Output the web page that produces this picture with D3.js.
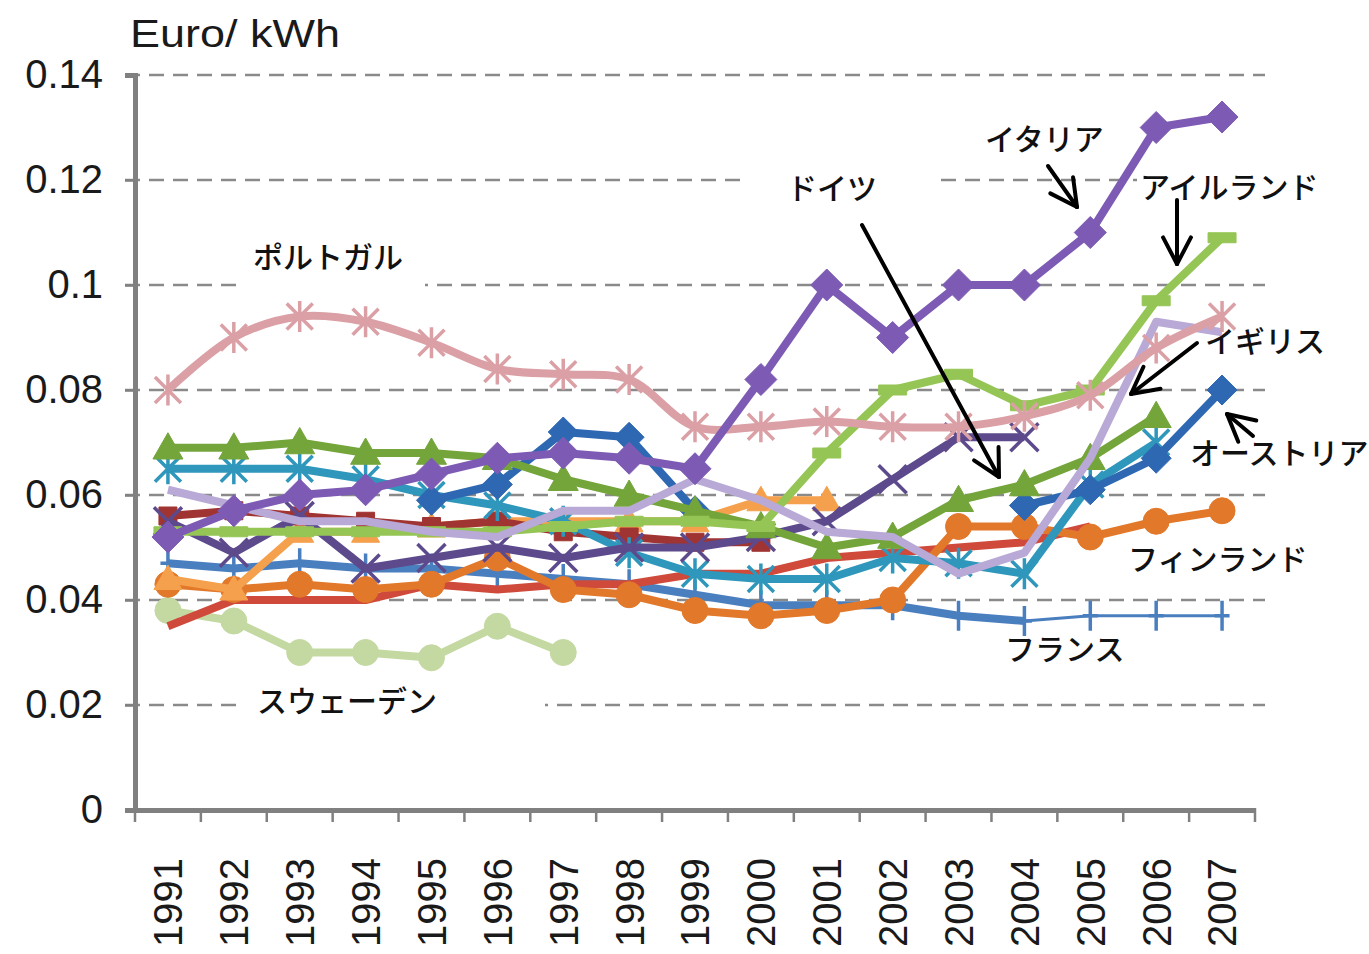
<!DOCTYPE html>
<html><head><meta charset="utf-8">
<script src="https://cdn.jsdelivr.net/npm/d3@7"></script>
<style>body{margin:0;background:#fff;} svg{display:block;}</style>
</head><body>
<svg id="c" width="1369" height="954"></svg>
<script>
const years = ["1991","1992","1993","1994","1995","1996","1997","1998","1999","2000","2001","2002","2003","2004","2005","2006","2007"];
const yTicks = [0, 0.02, 0.04, 0.06, 0.08, 0.1, 0.12, 0.14];
const yTickLabels = ["0", "0.02", "0.04", "0.06", "0.08", "0.1", "0.12", "0.14"];
const unitLabel = "Euro/ kWh";

const sweden    = [0.038,0.036,0.030,0.030,0.029,0.035,0.030,null,null,null,null,null,null,null,null,null,null];
const france    = [0.047,0.046,0.047,0.046,0.046,0.045,0.044,0.043,0.041,0.039,0.039,0.039,0.037,0.036,0.037,0.037,0.037];
const red       = [0.035,0.040,0.040,0.040,0.043,0.042,0.043,0.043,0.045,0.045,0.048,0.049,0.050,0.051,0.054,null,null];
const finland   = [0.043,0.042,0.043,0.042,0.043,0.048,0.042,0.041,0.038,0.037,0.038,0.040,0.054,0.054,0.052,0.055,0.057];
const ltOrange  = [0.044,0.042,0.053,0.053,0.054,0.055,0.055,0.055,0.055,0.059,0.059,null,null,null,null,null,null];
const darkRed   = [0.056,0.057,0.056,0.055,0.054,0.055,0.053,0.052,0.051,0.051,null,null,null,null,null,null,null];
const teal      = [0.065,0.065,0.065,0.063,0.060,0.058,0.055,0.049,0.045,0.044,0.044,0.048,0.047,0.045,0.062,0.070,null];
const germany   = [0.055,0.049,0.056,0.046,0.048,0.050,0.048,0.050,0.050,0.052,0.055,0.063,0.071,0.071,null,null,null];
const austria   = [null,null,null,null,0.059,0.062,0.072,0.071,0.057,null,null,null,null,0.058,0.061,0.067,0.080];
const greenTri  = [0.069,0.069,0.070,0.068,0.068,0.067,0.063,0.060,0.057,0.054,0.050,0.052,0.059,0.062,0.067,0.075,null];
const ireland   = [0.053,0.053,0.053,0.053,0.053,0.053,0.054,0.055,0.055,0.054,0.068,0.080,0.083,0.077,0.080,0.097,0.109];
const uk        = [0.061,0.058,0.055,0.055,0.053,0.052,0.057,0.057,0.063,0.059,0.053,0.052,0.045,0.049,0.067,0.093,0.091];
const portugal  = [0.080,0.090,0.094,0.093,0.089,0.084,0.083,0.082,0.073,0.073,0.074,0.073,0.073,0.075,0.079,0.088,0.094];
const italy     = [0.052,0.057,0.060,0.061,0.064,0.067,0.068,0.067,0.065,0.082,0.100,0.090,0.100,0.100,0.110,0.130,0.132];

const labelTexts = ["ポルトガル","スウェーデン","ドイツ","イタリア","アイルランド","イギリス","オーストリア","フィンランド","フランス"];

const svg = d3.select("#c");
const x = d3.scaleBand().domain(years).range([135, 1255]).padding(0);
const y = d3.scaleLinear().domain([0, 0.14]).range([810, 75]);
const cx = d => x(d) + x.bandwidth() / 2;
const FONT = "'Liberation Sans', Arial, sans-serif";
const JFONT = "'Noto Sans CJK JP', sans-serif";

// gridlines
svg.append("g").selectAll("line").data(yTicks.filter(v => v > 0)).join("line")
  .attr("x1", 125).attr("x2", 1265)
  .attr("y1", d => y(d)).attr("y2", d => y(d))
  .attr("stroke", "#8a8a8a").attr("stroke-width", 2.5).attr("stroke-dasharray", "15,9");

// white boxes behind labels
const boxes = [[240,232,185,60],[245,676,300,46],[745,158,195,58],[1137,162,195,44]];
svg.append("g").selectAll("rect").data(boxes).join("rect")
  .attr("x", d => d[0]).attr("y", d => d[1]).attr("width", d => d[2]).attr("height", d => d[3])
  .attr("fill", "#fff");

// y axis
const yAxis = svg.append("g").attr("transform", "translate(135,0)")
  .call(d3.axisLeft(y).tickValues(yTicks).tickFormat((d, i) => yTickLabels[i]).tickSize(10).tickPadding(22));
yAxis.select(".domain").attr("stroke", "#808080").attr("stroke-width", 5);
yAxis.selectAll(".tick line").attr("stroke", "#808080").attr("stroke-width", 2.5);
yAxis.selectAll("text").attr("font-family", FONT).attr("font-size", 40).attr("fill", "#1a1a1a");

// x axis
const xAxis = svg.append("g").attr("transform", "translate(0,810)")
  .call(d3.axisBottom(x).tickSize(0).tickPadding(0));
xAxis.select(".domain").attr("stroke", "#808080").attr("stroke-width", 5);
xAxis.selectAll("text")
  .attr("transform", "rotate(-90)")
  .attr("x", -48).attr("y", 0).attr("dy", "0.36em")
  .attr("text-anchor", "end")
  .attr("font-family", FONT).attr("font-size", 40).attr("fill", "#1a1a1a");
const bounds = years.map(d => x(d)).concat([x.range()[1]]);
svg.append("g").selectAll("line").data(bounds).join("line")
  .attr("x1", d => d).attr("x2", d => d).attr("y1", 808).attr("y2", 822)
  .attr("stroke", "#808080").attr("stroke-width", 2.5);

// unit label
svg.append("text").attr("x", 130).attr("y", 47).text(unitLabel)
  .attr("font-family", FONT).attr("font-size", 38).attr("fill", "#1a1a1a")
  .attr("textLength", 210).attr("lengthAdjust", "spacingAndGlyphs");

// marker paths
const mk = {
  diamond: r => `M0,${-r}L${r},0L0,${r}L${-r},0Z`,
  square: r => `M${-r},${-r}H${r}V${r}H${-r}Z`,
  triangle: r => `M0,${-r}L${r},${r*0.75}L${-r},${r*0.75}Z`,
  circle: r => `M${-r},0A${r},${r} 0 1,0 ${r},0A${r},${r} 0 1,0 ${-r},0Z`,
  x: r => `M${-r},${-r}L${r},${r}M${-r},${r}L${r},${-r}`,
  star: r => `M${-r},${-r}L${r},${r}M${-r},${r}L${r},${-r}M0,${-r*1.2}V${r*1.2}`,
  plus: r => `M0,${-r}V${r}M${-r*0.5},0H${r*0.5}`,
  dash: r => `M${-r},-5H${r}V5H${-r}Z`
};
const filled = {diamond:true, square:true, triangle:true, circle:true, dash:true};

const series = [
  {v: sweden,   c: "#c4d9a2", m: "circle",   r: 13},
  {v: france,   c: "#4a7fbf", m: "plus",     r: 15, thinFrom: 13},
  {v: red,      c: "#cf4a3a", m: "square",   r: 0},
  {v: finland,  c: "#e2782a", m: "circle",   r: 13},
  {v: ltOrange, c: "#f5a04c", m: "triangle", r: 14},
  {v: darkRed,  c: "#a03432", m: "square",   r: 9},
  {v: teal,     c: "#2f97bb", m: "star",     r: 13},
  {v: germany,  c: "#5d4a8c", m: "x",        r: 14},
  {v: austria,  c: "#2e68b2", m: "diamond",  r: 15},
  {v: greenTri, c: "#74a53b", m: "triangle", r: 15},
  {v: ireland,  c: "#95c555", m: "dash",     r: 14},
  {v: uk,       c: "#b9a9d6", m: "none",     r: 0},
  {v: portugal, c: "#dba0a6", m: "star",     r: 13, smooth: true},
  {v: italy,    c: "#7d5bb4", m: "diamond",  r: 16}
];

const gLines = svg.append("g");
series.forEach(s => {
  const pts = s.v.map((d, i) => ({x: cx(years[i]), v: d, i}));
  const line = d3.line().defined(p => p.v != null).x(p => p.x).y(p => y(p.v))
    .curve(s.smooth ? d3.curveCatmullRom.alpha(0.5) : d3.curveLinear);
  if (s.thinFrom != null) {
    const thick = pts.map(p => p.i <= s.thinFrom ? p : {...p, v: null});
    const thin = pts.map(p => p.i >= s.thinFrom ? p : {...p, v: null});
    gLines.append("path").attr("d", line(thick)).attr("fill", "none").attr("stroke", s.c)
      .attr("stroke-width", 8).attr("stroke-linejoin", "round");
    gLines.append("path").attr("d", line(thin)).attr("fill", "none").attr("stroke", s.c)
      .attr("stroke-width", 3);
  } else {
    gLines.append("path").attr("d", line(pts)).attr("fill", "none").attr("stroke", s.c)
      .attr("stroke-width", 8).attr("stroke-linejoin", "round");
  }
  if (s.m !== "none" && s.r > 0) {
    gLines.append("g").selectAll("path").data(pts.filter(p => p.v != null)).join("path")
      .attr("transform", p => `translate(${p.x},${y(p.v)})`)
      .attr("d", mk[s.m](s.r))
      .attr("fill", filled[s.m] ? s.c : "none")
      .attr("stroke", s.c)
      .attr("stroke-width", filled[s.m] ? 1 : 3.5);
  }
});

// annotation labels
const labelPos = [[253,268],[257,712],[787,199],[985,150],[1140,198],[1205,352],[1190,464],[1128,570],[1005,660]];
svg.append("g").selectAll("text").data(labelTexts).join("text")
  .attr("x", (d, i) => labelPos[i][0]).attr("y", (d, i) => labelPos[i][1])
  .text(d => d)
  .attr("font-family", JFONT).attr("font-size", 30).attr("font-weight", 500).attr("fill", "#111");

// arrows
const arrows = [
  [[862,225],[999,477]],
  [[1048,166],[1077,207]],
  [[1177,200],[1177,264]],
  [[1197,343],[1131,394]],
  [[1253,436],[1227,414]]
];
const gA = svg.append("g").attr("stroke", "#000").attr("stroke-width", 4).attr("fill", "none")
  .attr("stroke-linecap", "round");
arrows.forEach(([a, b]) => {
  gA.append("line").attr("x1", a[0]).attr("y1", a[1]).attr("x2", b[0]).attr("y2", b[1]);
  const ang = Math.atan2(b[1] - a[1], b[0] - a[0]);
  const L = 30, w = Math.PI / 6.5;
  [ang + Math.PI - w, ang + Math.PI + w].forEach(t => {
    gA.append("line").attr("x1", b[0]).attr("y1", b[1])
      .attr("x2", b[0] + L * Math.cos(t)).attr("y2", b[1] + L * Math.sin(t));
  });
});
</script>
</body></html>
